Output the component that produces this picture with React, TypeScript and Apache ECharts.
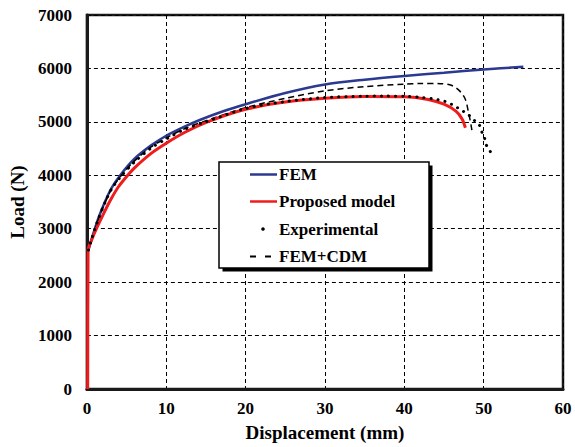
import React, { useEffect, useRef } from "react";
import * as echarts from "echarts";

const xTicks = [0, 10, 20, 30, 40, 50, 60];
const yTicks = [0, 1000, 2000, 3000, 4000, 5000, 6000, 7000];

const femData: number[][] = [
  [0.2, 2600], [0.5, 2760], [1, 3000], [1.5, 3220], [2.26, 3500], [3.1, 3760],
  [4.3, 4020], [6, 4310], [8.1, 4560], [10, 4740], [12.3, 4910], [14.3, 5040],
  [17, 5190], [20, 5330], [25, 5540], [30, 5700], [35, 5790], [40, 5860],
  [45, 5920], [50, 5980], [55, 6030],
];

const proposedData: number[][] = [
  [0.1, 0], [0.15, 2600], [0.6, 2790], [1.2, 3000], [2.26, 3330], [3.1, 3570],
  [4, 3790], [5.2, 4010], [6, 4140], [8.1, 4410], [10, 4600], [12.3, 4800],
  [15.2, 5000], [20, 5235], [25, 5370], [30, 5440], [35, 5475], [40, 5470],
  [43, 5420], [45, 5330], [46.5, 5200], [47.3, 5050], [47.7, 4890],
];

const experimentalData: number[][] = [
  [0.2, 2600], [0.5, 2760], [1, 2990], [1.5, 3200], [2.26, 3480], [3.1, 3740],
  [4.3, 3980], [6, 4250], [8.1, 4510], [10, 4680], [12.3, 4860], [15, 5000],
  [20, 5250], [25, 5380], [30, 5455], [35, 5480], [37.4, 5482], [40.3, 5478],
  [42, 5460], [43.7, 5430], [44.5, 5405], [45.4, 5370], [46, 5325], [46.7, 5265],
  [47.4, 5200], [48, 5140], [48.5, 5080], [49, 5000], [49.5, 4930], [49.8, 4800],
  [50.1, 4705], [50.3, 4580], [50.6, 4500], [51, 4410],
];

const femCdmData: number[][] = [
  [0.2, 2600], [0.5, 2760], [1, 2990], [1.5, 3200], [2.26, 3480], [3.1, 3740],
  [4.3, 3990], [6, 4270], [8.1, 4530], [10, 4700], [12.3, 4870], [15, 5020],
  [20, 5265], [25, 5440], [30, 5580], [35, 5660], [40, 5705], [42, 5718],
  [44.5, 5715], [46, 5680], [47, 5575], [47.7, 5420], [48.1, 5170], [48.4, 4950],
  [48.6, 4770],
];

const legendNames = ["FEM", "Proposed model", "Experimental", "FEM+CDM"];

const FONT = "'Liberation Serif', 'Times New Roman', serif";
const BLUE = "#2b3990";
const RED = "#f01c1c";

export default function App() {
  const ref = useRef<HTMLDivElement>(null);
  useEffect(() => {
    if (!ref.current) return;
    const chart = echarts.init(ref.current, null, { renderer: "svg" });
    const textStyle = { fontFamily: FONT, fontWeight: "bold" as const, fontSize: 17, fill: "#000" };
    const lx = 250, lx2 = 277, tx = 279;
    const ly = [174.5, 201.5, 229, 256.5];
    chart.setOption({
      animation: false,
      backgroundColor: "#fff",
      grid: {
        left: 86, top: 15, right: 12, bottom: 56,
        show: true, borderColor: "#1a1a1a", borderWidth: 2.5,
      },
      xAxis: {
        type: "value", min: 0, max: 60, interval: 10,
        name: "Displacement (mm)", nameLocation: "middle", nameGap: 34,
        nameTextStyle: { fontFamily: FONT, fontWeight: "bold", fontSize: 19, color: "#000" },
        axisLine: { show: true, lineStyle: { color: "#1a1a1a", width: 3 } },
        axisTick: { show: false },
        axisLabel: {
          fontFamily: FONT, fontWeight: "bold", fontSize: 17, color: "#000", margin: 11,
          formatter: (v: number) => (xTicks.includes(v) ? String(v) : ""),
        },
        splitLine: { show: true, lineStyle: { color: "#000", width: 1, type: [4, 3] } },
      },
      yAxis: {
        type: "value", min: 0, max: 7000, interval: 1000,
        name: "Load (N)", nameLocation: "middle", nameGap: 56, nameRotate: 90,
        nameTextStyle: { fontFamily: FONT, fontWeight: "bold", fontSize: 19, color: "#000" },
        axisLine: { show: true, lineStyle: { color: "#1a1a1a", width: 3 } },
        axisTick: { show: false },
        axisLabel: {
          fontFamily: FONT, fontWeight: "bold", fontSize: 17, color: "#000", margin: 15,
          formatter: (v: number) => (yTicks.includes(v) ? String(v) : ""),
        },
        splitLine: { show: true, lineStyle: { color: "#000", width: 1, type: [4, 3] } },
      },
      series: [
        {
          name: legendNames[0], type: "line", data: femData, showSymbol: false, smooth: 0.3,
          lineStyle: { color: BLUE, width: 2.5 }, z: 3,
        },
        {
          name: legendNames[3], type: "line", data: femCdmData, showSymbol: false, smooth: 0.3,
          lineStyle: { color: "#000", width: 1.5, type: [6, 4] }, z: 4,
        },
        {
          name: legendNames[1], type: "line", data: proposedData, showSymbol: false, smooth: 0.25,
          lineStyle: { color: RED, width: 3 }, z: 5,
        },
        {
          name: legendNames[2], type: "line", data: experimentalData, showSymbol: false, smooth: 0.3,
          lineStyle: { color: "#000", width: 3, type: [0.1, 7], cap: "round" }, z: 6,
        },
      ],
      graphic: [
        { type: "rect", shape: { x: 222.5, y: 165.5, width: 210, height: 106 }, style: { fill: "#000" }, z: 100 },
        { type: "rect", shape: { x: 219, y: 162, width: 210, height: 106 }, style: { fill: "#fff", stroke: "#000", lineWidth: 1.5 }, z: 101 },
        { type: "line", shape: { x1: lx, y1: ly[0], x2: lx2, y2: ly[0] }, style: { stroke: BLUE, lineWidth: 2.5 }, z: 102 },
        { type: "line", shape: { x1: lx, y1: ly[1], x2: lx2, y2: ly[1] }, style: { stroke: RED, lineWidth: 2.5 }, z: 102 },
        { type: "circle", shape: { cx: 263, cy: ly[2], r: 1.8 }, style: { fill: "#000" }, z: 102 },
        { type: "line", shape: { x1: lx, y1: ly[3], x2: lx2, y2: ly[3] }, style: { stroke: "#000", lineWidth: 2, lineDash: [6, 9] }, z: 102 },
        ...legendNames.map((n, i) => ({
          type: "text", x: tx, y: ly[i], z: 102,
          style: { ...textStyle, text: n, verticalAlign: "middle", align: "left" },
        })),
      ],
    });
    return () => chart.dispose();
  }, []);
  return <div ref={ref} style={{ width: 575, height: 447, position: "absolute", left: 0, top: 0 }} />;
}
